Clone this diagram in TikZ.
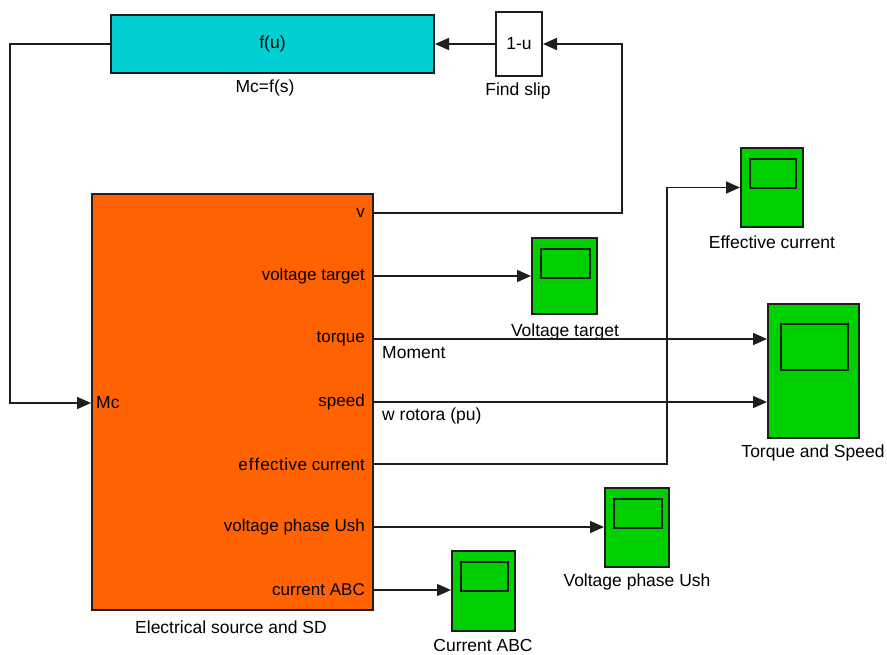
\documentclass[tikz,border=0pt]{standalone}
\usepackage{fontspec}
\setmainfont{Liberation Sans}
\usetikzlibrary{arrows.meta,calc}
\definecolor{cyanblk}{RGB}{0,208,210}
\definecolor{orangeblk}{RGB}{255,98,0}
\definecolor{greenblk}{RGB}{0,208,0}
\definecolor{linec}{RGB}{30,30,30}
\begin{document}
\begin{tikzpicture}[x=1pt,y=-1pt,
  font=\fontsize{17.5}{20}\selectfont,
  blk/.style={draw=linec,line width=2pt,inner sep=0pt,anchor=north west},
  scopeblk/.style={blk,fill=greenblk},
  screen/.style={draw=linec,line width=2pt},
  wire/.style={draw=linec,line width=1.7pt},
  arr/.style={wire,-{Triangle[length=14pt,width=12pt]}},
  lbl/.style={inner sep=0pt},
  port/.style={inner sep=0pt,anchor=east,font=\fontsize{17}{20}\selectfont}]
\useasboundingbox (0,0) rectangle (887,654);
% blocks
\node[blk,fill=cyanblk,minimum width=323,minimum height=58] (fu) at (110,14) {};
\node at (fu.center) {f(u)};
\node[blk,fill=white,minimum width=46,minimum height=64] (slip) at (495,11) {};
\node at (slip.center) {1-u};
\node[blk,fill=orangeblk,minimum width=281,minimum height=416] (src) at (91,193) {};
\node[scopeblk,minimum width=65,minimum height=76] (scVT) at (531,237) {};
\node[scopeblk,minimum width=62,minimum height=79] (scEC) at (740,147) {};
\node[scopeblk,minimum width=91,minimum height=134] (scTS) at (767,303) {};
\node[scopeblk,minimum width=64,minimum height=79] (scVP) at (604,487) {};
\node[scopeblk,minimum width=63,minimum height=80] (scCA) at (451,550) {};
% scope screens
\foreach \s in {scVT,scEC,scVP,scCA}{
  \draw[screen] ($(\s.north west)+(10,12)$) rectangle ($(\s.north east)+(-8,41)$);
}
\draw[screen] ($(scTS.north west)+(14,21)$) rectangle ($(scTS.north east)+(-12,67)$);
% block labels
\node[lbl] (lfu) at (265,88) {Mc=f(s)};
\node[lbl] (lslip) at (518,91) {Find slip};
\node[lbl] (lsrc) at (231,627) {Electrical source and SD};
\node[lbl] (lVT) at (565,332) {Voltage target};
\node[lbl] (lEC) at (772,242) {Effective current};
\node[lbl] (lTS) at (813,453) {Torque and Speed};
\node[lbl] (lVP) at (637,582) {Voltage phase Ush};
\node[lbl] (lCA) at (483,645) {Current ABC};
% ports
\coordinate (pV) at (372,213);
\coordinate (pVT) at (372,276);
\coordinate (pTq) at (372,339);
\coordinate (pSp) at (372,402);
\coordinate (pEC) at (372,464);
\coordinate (pVP) at (372,527);
\coordinate (pCA) at (372,590);
\coordinate (pMc) at (91,403);
\node[port] (tV) at (365,213) {v};
\node[port] (tVT) at (365,276) {voltage target};
\node[port] (tTq) at (365,339) {torque};
\node[port] (tSp) at (365,402) {speed};
\node[port] (tEC) at (365,464) {e\kern1pt f\kern1pt f\kern1pt e\kern0.5pt c\kern0.5pt t\kern0.5pt i\kern0.5pt v\kern0.5pt e current};
\node[port] (tVP) at (365,527) {voltage phase Ush};
\node[port] (tCA) at (365,590) {current ABC};
\node[lbl,anchor=west] (tMc) at (96,403) {Mc};
% signal names
\node[lbl,anchor=west] (nMom) at (382,353) {Moment};
\node[lbl,anchor=west] (nW) at (382,416) {w rotora (pu)};
% connectors
\coordinate (cv) at (622,213);
\coordinate (cec) at (667,464);
\coordinate (cfb) at (10,403);
\draw[arr] (slip.west) -- (fu.east);
\draw[arr] (pV) -- (cv) |- (slip.east);
\draw[arr] (fu.west) -- (fu.west -| cfb) -- (cfb) -- (pMc);
\draw[arr] (pVT) -- (pVT -| scVT.west);
\draw[arr] (pTq) -- (pTq -| scTS.west);
\draw[arr] (pSp) -- (pSp -| scTS.west);
\draw[arr] (pEC) -- (cec) |- (scEC.west);
\draw[arr] (pVP) -- (pVP -| scVP.west);
\draw[arr] (pCA) -- (pCA -| scCA.west);
\end{tikzpicture}
\end{document}
